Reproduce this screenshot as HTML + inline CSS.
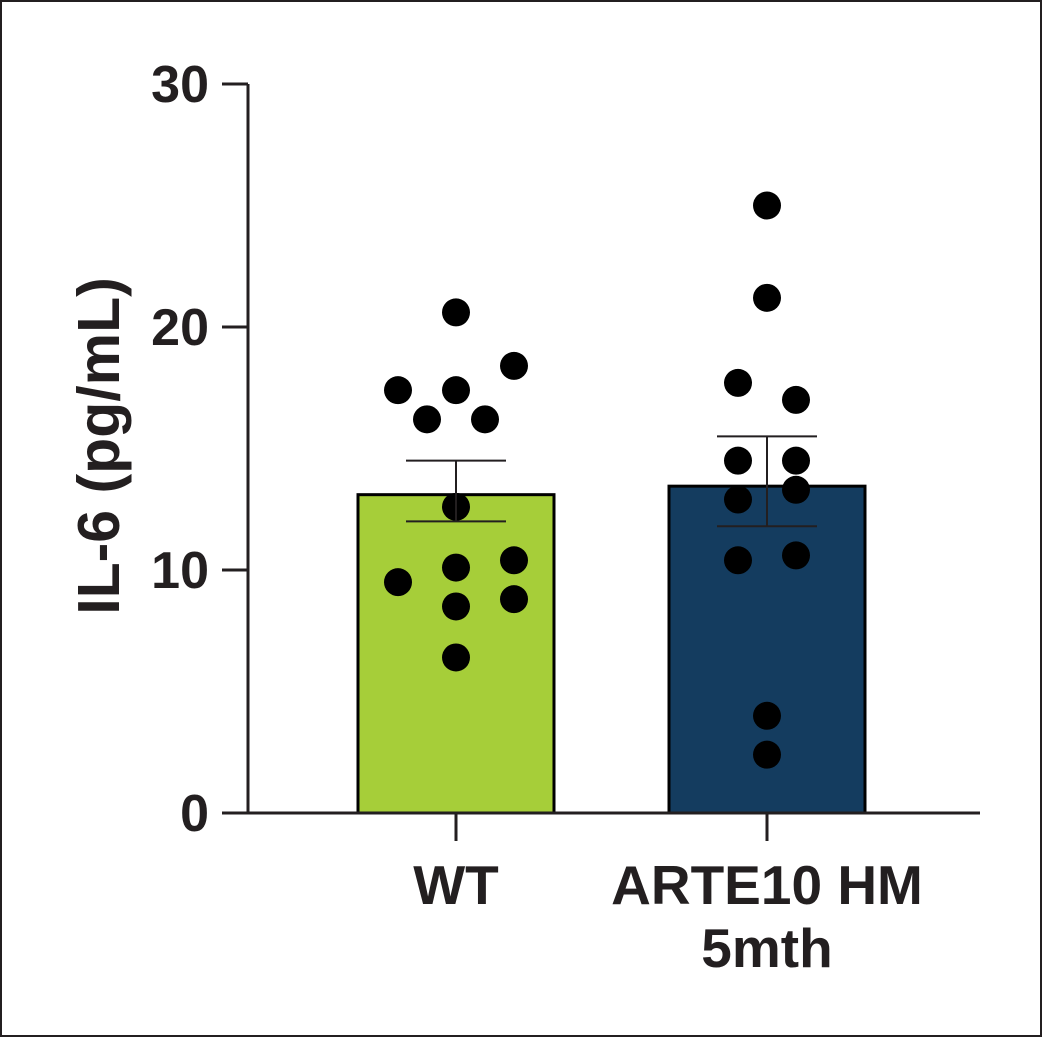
<!DOCTYPE html>
<html><head><meta charset="utf-8"><style>
html,body{margin:0;padding:0;background:#fff}
svg text{font-family:"Liberation Sans",Arial,sans-serif;font-weight:bold;fill:#231f20}
</style></head><body>
<svg id="chart" width="1042" height="1037" viewBox="0 0 1042 1037" xmlns="http://www.w3.org/2000/svg">
<rect x="1" y="1" width="1040" height="1035" fill="#fff" stroke="#231f20" stroke-width="2"/>
<g id="plot"></g>
</svg>
<script>
const categories = ["WT", "ARTE10 HM|5mth"];
const means = [13.1, 13.45];
const errHigh = [14.5, 15.5];
const errLow = [12.0, 11.8];
const colors = ["#a6ce39", "#143c5f"];
const wtValues = [9.5, 20.6, 18.4, 17.4, 17.4, 16.2, 16.2, 12.6, 10.1, 10.4, 8.5, 8.8, 6.4];
const wtJitter = [-1, 0, 1, -1, 0, -0.5, 0.5, 0, 0, 1, 0, 1, 0];
const arteValues = [25.0, 21.2, 17.7, 17.0, 14.5, 14.5, 12.9, 13.3, 10.4, 10.6, 4.0, 2.4];
const arteJitter = [0, 0, -0.5, 0.5, -0.5, 0.5, -0.5, 0.5, -0.5, 0.5, 0, 0];
const yTicks = [0, 10, 20, 30];

const NS = "http://www.w3.org/2000/svg";
const g = document.getElementById("plot");
const y = v => 813 - v * 24.3;
const xc = i => 456 + i * 311;
const jitterPx = 58;
function el(tag, attrs, parent) {
  const e = document.createElementNS(NS, tag);
  for (const k in attrs) e.setAttribute(k, attrs[k]);
  (parent || g).appendChild(e);
  return e;
}
categories.forEach((c, i) => {
  const b = el("rect", {x: xc(i) - 98, y: y(means[i]), width: 196, height: y(0) - y(means[i]), fill: colors[i], stroke: "#000", "stroke-width": 3});
  
  
});
[[wtValues, wtJitter], [arteValues, arteJitter]].forEach(([vals, jit], i) => {
  vals.forEach((v, j) => {
    const p = el("circle", {cx: xc(i) + jit[j] * jitterPx, cy: y(v), r: 14, fill: "#000"});
    
    
  });
});
categories.forEach((c, i) => {
  const eg = el("g", {stroke: "#231f20", "stroke-width": 2, fill: "none"});
  
  
  el("line", {x1: xc(i), x2: xc(i), y1: y(errHigh[i]), y2: y(errLow[i])}, eg);
  el("line", {x1: xc(i) - 50, x2: xc(i) + 50, y1: y(errHigh[i]), y2: y(errHigh[i])}, eg);
  el("line", {x1: xc(i) - 50, x2: xc(i) + 50, y1: y(errLow[i]), y2: y(errLow[i])}, eg);
});
const ya = el("line", {x1: 248, x2: 248, y1: y(30), y2: y(0) + 1, stroke: "#231f20", "stroke-width": 3});


const xa = el("line", {x1: 247, x2: 980, y1: y(0), y2: y(0), stroke: "#231f20", "stroke-width": 3});


yTicks.forEach(t => {
  const tk = el("line", {x1: 222, x2: 248, y1: y(t), y2: y(t), stroke: "#231f20", "stroke-width": 3});
  
  
  const tl = el("text", {x: 209, y: y(t) + 18, "text-anchor": "end", "font-size": 52});
  tl.textContent = t;
  
  
});
categories.forEach((c, i) => {
  const tk = el("line", {x1: xc(i), x2: xc(i), y1: y(0), y2: y(0) + 28, stroke: "#231f20", "stroke-width": 3});
  
  
  c.split("|").forEach((line, k) => {
    const tl = el("text", {x: xc(i), y: 904 + k * 63, "text-anchor": "middle", "font-size": 55});
    tl.textContent = line;
    
    
  });
});
const yt = el("text", {x: 0, y: 0, "text-anchor": "middle", "font-size": 59, transform: "translate(119,446) rotate(-90)"});
yt.textContent = "IL-6 (pg/mL)";


</script>
</body></html>
